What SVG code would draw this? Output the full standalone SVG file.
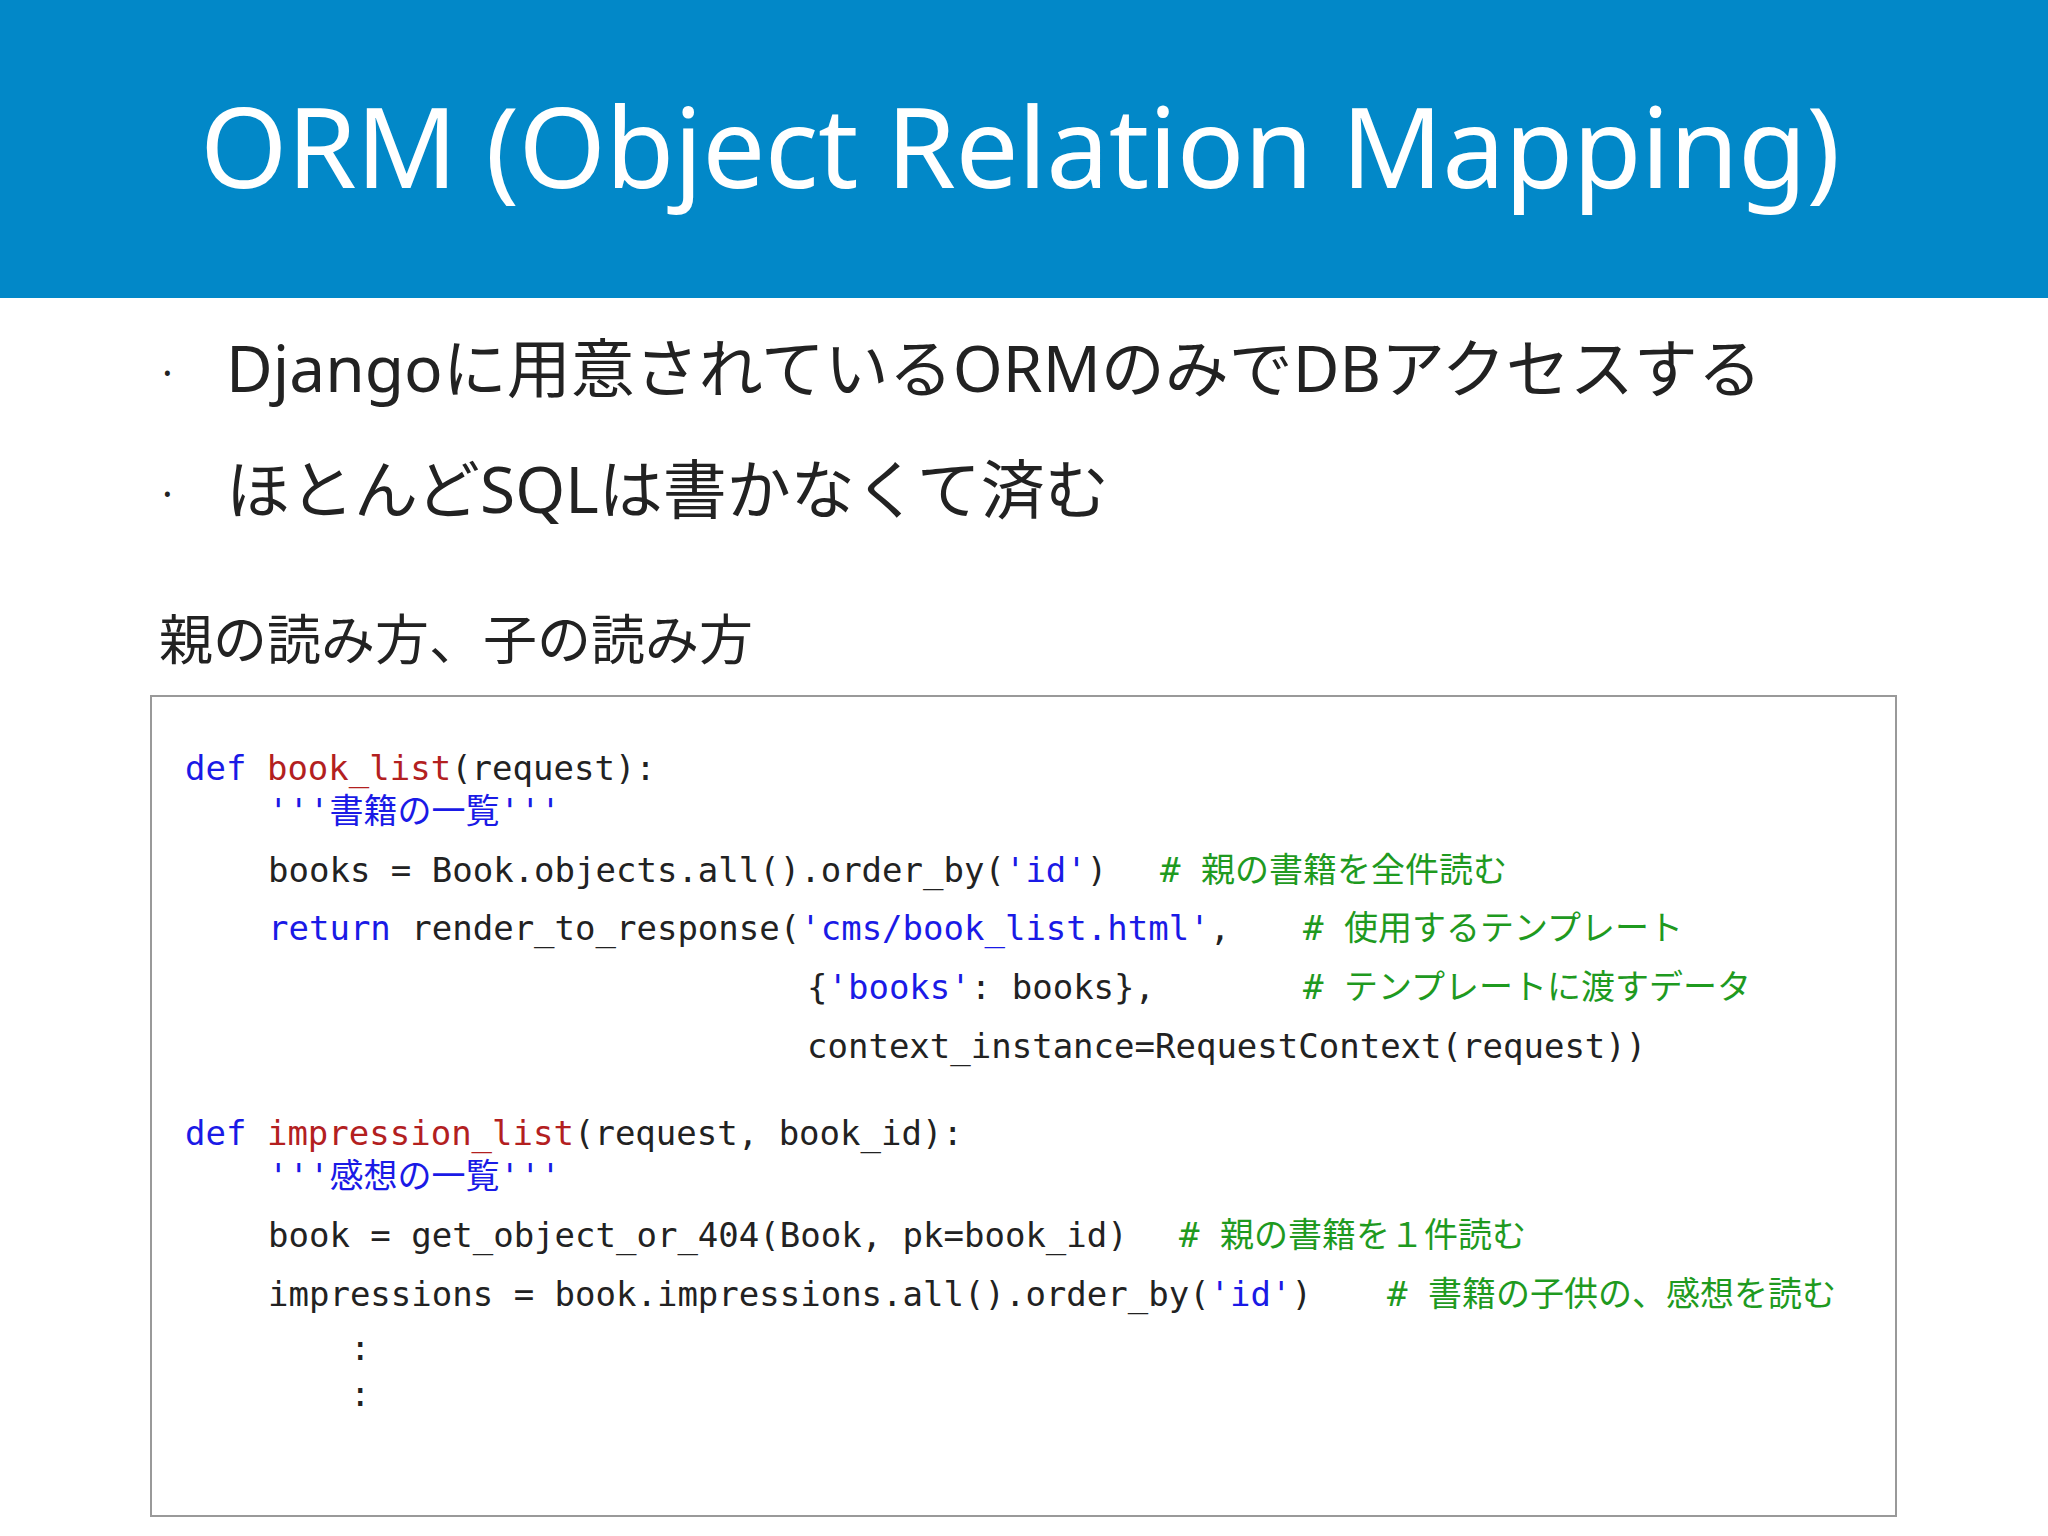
<svg xmlns="http://www.w3.org/2000/svg" width="2048" height="1536" viewBox="0 0 2048 1536">
<style>
.c{font-family:"DejaVu Sans Mono","Noto Sans CJK JP",monospace;font-size:34px;fill:#222;white-space:pre}
.k{fill:#1a1ae6}.f{fill:#b3201f}.g{fill:#1f9a1f}
.b{font-family:"Noto Sans","Noto Sans CJK JP",sans-serif;fill:#222}
</style>
<rect width="2048" height="1536" fill="#fff"/>
<g id="header">
<rect x="0" y="0" width="2048" height="298" fill="#0288c8"/>
<text x="1020" y="188" text-anchor="middle" font-family="'Noto Sans',sans-serif" font-size="112" fill="#fff" textLength="1640">ORM (Object Relation Mapping)</text>
</g>
<g id="bullets">
<text class="b" x="162" y="387" font-size="40">·</text>
<text class="b" x="226" y="392" font-size="64">Djangoに用意されているORMのみでDBアクセスする</text>
<text class="b" x="162" y="508" font-size="40">·</text>
<text class="b" x="226" y="513" font-size="64">ほとんどSQLは書かなくて済む</text>
</g>
<g id="heading"><text class="b" x="159" y="660" font-size="54">親の読み方、子の読み方</text></g>
<g id="codebox">
<rect x="151" y="696" width="1745" height="820" fill="#fff" stroke="#999" stroke-width="2"/>
<text class="c" x="185" y="780"><tspan class="k">def</tspan> <tspan class="f">book_list</tspan>(request):</text>
<text class="c k" x="268" y="823">'''書籍の一覧'''</text>
<text class="c" x="268" y="882">books = Book.objects.all().order_by(<tspan class="k">'id'</tspan>)</text>
<text class="c g" x="1160" y="882"># 親の書籍を全件読む</text>
<text class="c" x="268" y="940"><tspan class="k">return</tspan> render_to_response(<tspan class="k">'cms/book_list.html'</tspan>,</text>
<text class="c g" x="1303" y="940"># 使用するテンプレート</text>
<text class="c" x="807" y="999">{<tspan class="k">'books'</tspan>: books},</text>
<text class="c g" x="1303" y="999"># テンプレートに渡すデータ</text>
<text class="c" x="807" y="1058">context_instance=RequestContext(request))</text>
<text class="c" x="185" y="1145"><tspan class="k">def</tspan> <tspan class="f">impression_list</tspan>(request, book_id):</text>
<text class="c k" x="268" y="1188">'''感想の一覧'''</text>
<text class="c" x="268" y="1247">book = get_object_or_404(Book, pk=book_id)</text>
<text class="c g" x="1179" y="1247"># 親の書籍を１件読む</text>
<text class="c" x="268" y="1306">impressions = book.impressions.all().order_by(<tspan class="k">'id'</tspan>)</text>
<text class="c g" x="1387" y="1306"># 書籍の子供の、感想を読む</text>
<text class="c" x="350" y="1360">:</text>
<text class="c" x="350" y="1406">:</text>
</g>
</svg>
